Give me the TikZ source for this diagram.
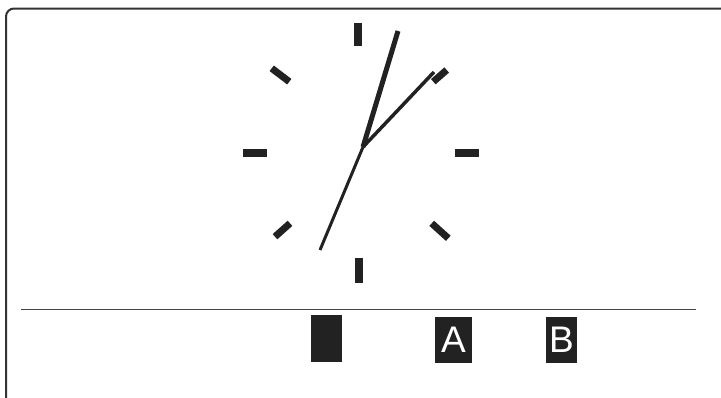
\documentclass[tikz,border=0pt]{standalone}
\usepackage{fontspec}
\setmainfont{Liberation Sans}
\definecolor{ink}{HTML}{222222}
\definecolor{frame}{HTML}{333333}
\definecolor{rule}{HTML}{444444}
\begin{document}
\begin{tikzpicture}[x=1pt,y=-1pt,
  tick/.style={ink,line width=8pt},
  dtick/.style={ink,line width=7pt},
  box/.style={fill=ink,inner sep=0pt,text=white,font=\fontsize{37}{37}\selectfont},
]
\useasboundingbox (0,0) rectangle (721,397);
% frame
\draw[frame,line width=2pt,rounded corners=8pt] (6,402) |- (726,8.5);
% divider
\coordinate (rl) at (21,309.5);
\coordinate (rr) at (696,309.5);
\draw[rule,line width=1.6pt] (rl) -- (rr);
% ticks
\draw[tick] (358,23) -- (358,46);
\draw[tick] (358.5,258) -- (358.5,283);
\draw[tick] (243,153) -- (267,153);
\draw[tick] (455,153) -- (479,153);
\draw[dtick] (271.7,68.3) -- (289.3,81.7);
\draw[dtick] (275,236.7) -- (290,223.3);
\draw[dtick] (431.7,223.3) -- (448.3,238.3);
\draw[dtick] (433.3,81.7) -- (446.7,70);
% hands
\coordinate (c) at (363,147);
\coordinate (mh) at (398,31);
\coordinate (hh) at (434,72);
\coordinate (sh) at (320,250);
\draw[ink,line width=3.5pt] (c) -- (hh);
\draw[ink,line width=5pt] (c) -- (mh);
\draw[ink,line width=3pt] (c) -- (sh);
% boxes
\node[box,minimum width=31pt,minimum height=47pt] (b0) at (326.5,338.5) {};
\node[box,minimum width=37pt,minimum height=46pt] (ba) at (453.5,340) {A};
\node[box,minimum width=31pt,minimum height=46pt] (bb) at (561.5,340) {B};
\end{tikzpicture}
\end{document}
